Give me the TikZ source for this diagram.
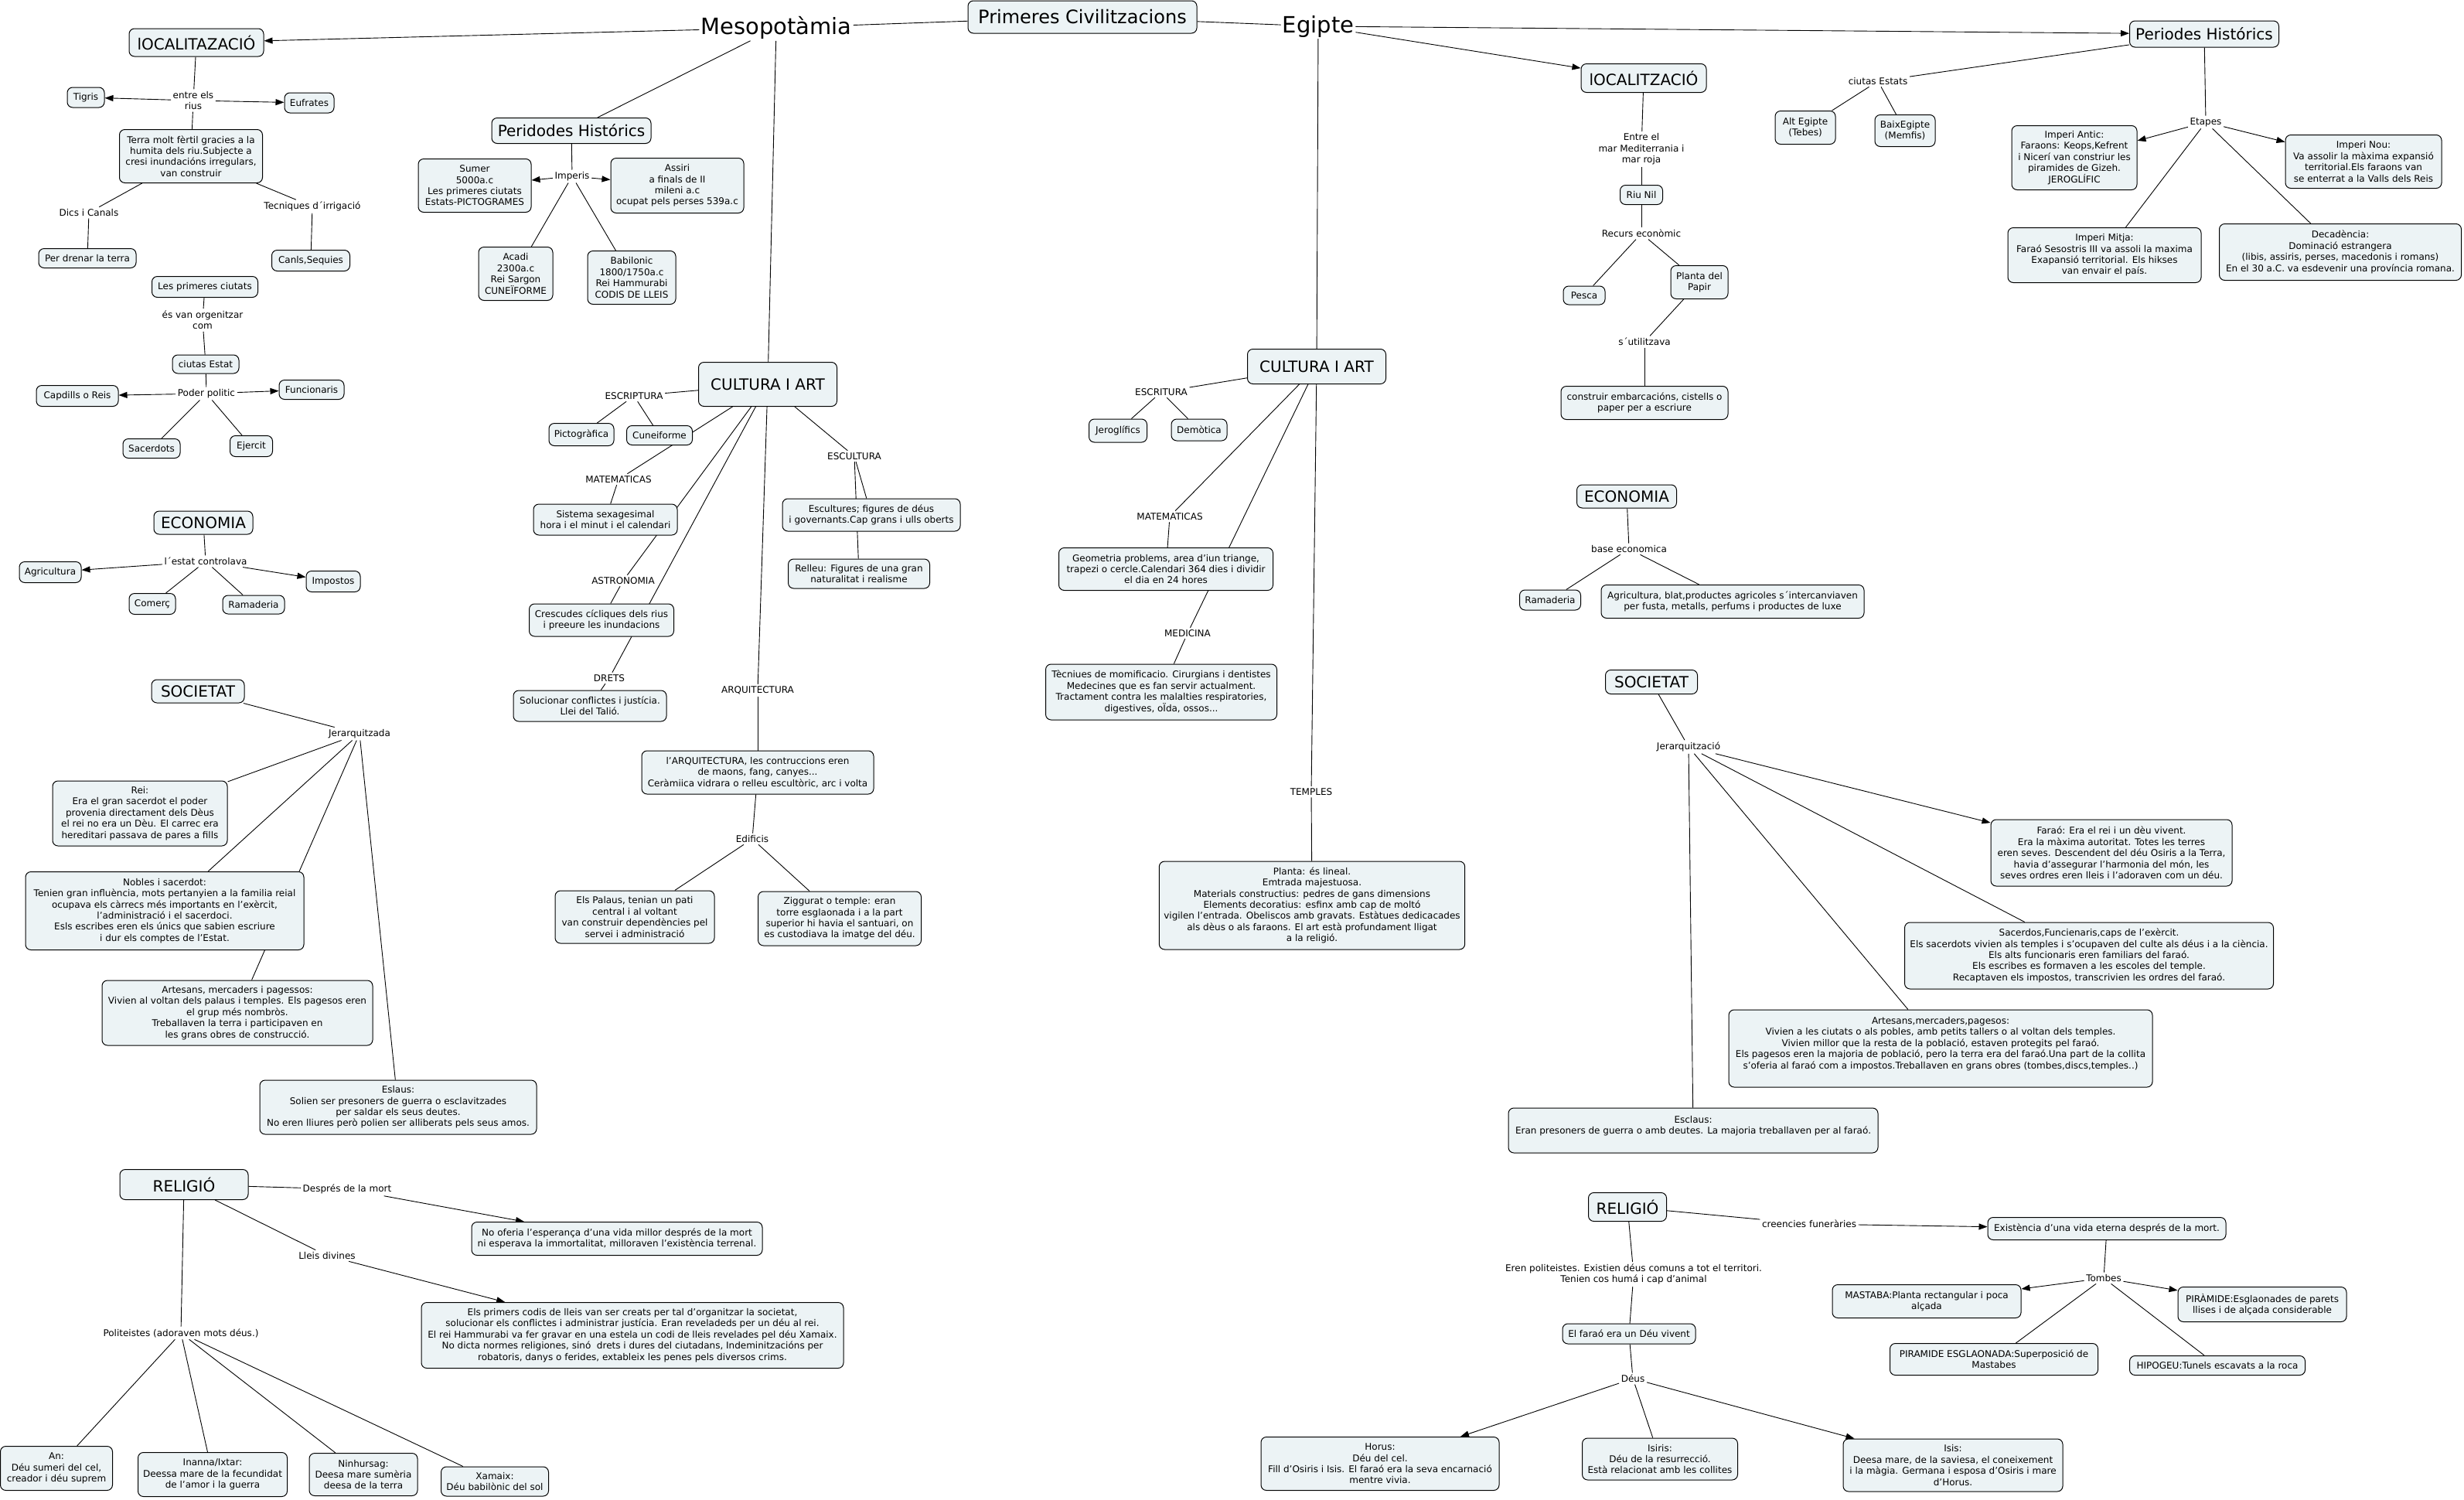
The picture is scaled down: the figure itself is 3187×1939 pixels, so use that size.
\documentclass[tikz,border=0pt]{standalone}
\usepackage{fontspec}
\setmainfont{DejaVu Sans}
\usetikzlibrary{arrows.meta,backgrounds}
\definecolor{boxfill}{RGB}{236,243,245}
\begin{document}
\begin{tikzpicture}[x=1pt,y=-1pt,
 box/.style={draw=black,line width=1pt,rounded corners=7pt,fill=boxfill,align=center,font=\fontsize{12}{14.4}\selectfont,inner xsep=6pt,inner ysep=3pt},
 head/.style={box,font=\fontsize{20}{24}\selectfont},
 lbl/.style={align=center,font=\fontsize{12}{14.4}\selectfont,inner sep=2.5pt},
 big/.style={font=\fontsize{29}{34}\selectfont,inner sep=2pt},
 wh/.style 2 args={minimum width=#1pt,minimum height=#2pt},
 conn/.style={line width=0.9pt},
 arr/.style={line width=0.9pt,-{Triangle[length=11pt,width=8pt]}}]
\useasboundingbox (0,0) rectangle (3187,1939);
% ---------- top ----------
\node[box,wh={296}{42},font=\fontsize{24}{28}\selectfont] (prim) at (1400,22) {Primeres Civilitzacions};
\node[big] (meso) at (1004,36) {Mesopotàmia};
\node[big] (egip) at (1705,34) {Egipte};
% ---------- Mesopotamia: localitzacio ----------
\node[head,wh={174}{36}] (locM) at (254,55) {lOCALITAZACIÓ};
\node[lbl] (rius) at (250,130) {entre els\\rius};
\node[box,wh={48}{26}] (tigris) at (111,126) {Tigris};
\node[box,wh={64}{26}] (eufrates) at (400,133) {Eufrates};
\node[box,wh={185}{69}] (terra) at (247,202) {Terra molt fèrtil gracies a la\\humita dels riu.Subjecte a\\cresi inundacións irregulars,\\van construir};
\node[lbl] (dics) at (115,275) {Dics i Canals};
\node[box,wh={126}{25}] (drenar) at (113,334) {Per drenar la terra};
\node[lbl] (tecn) at (404,267) {Tecniques d´irrigació};
\node[box,wh={101}{27}] (canls) at (402,337) {Canls,Sequies};
\node[box,wh={137}{27}] (primc) at (265,371) {Les primeres ciutats};
\node[lbl] (orgen) at (262,414) {és van orgenitzar\\com};
\node[box,wh={86}{24}] (ciutE) at (266,471) {ciutas Estat};
\node[lbl] (poder) at (267,509) {Poder politic};
\node[box,wh={106}{27}] (capd) at (100,512) {Capdills o Reis};
\node[box,wh={84}{25}] (func) at (403,504) {Funcionaris};
\node[box,wh={74}{25}] (sacer) at (196,580) {Sacerdots};
\node[box,wh={55}{27}] (ejer) at (325,577) {Ejercit};
% ---------- Mesopotamia: periodes ----------
\node[head,wh={206}{33}] (perM) at (739,169) {Peridodes Histórics};
\node[lbl] (imper) at (740,228) {Imperis};
\node[box,wh={146}{69}] (sumer) at (614,240) {Sumer\\5000a.c\\Les primeres ciutats\\Estats-PICTOGRAMES};
\node[box,wh={172}{71}] (assiri) at (876,240) {Assiri\\a finals de II\\mileni a.c\\ocupat pels perses 539a.c};
\node[box,wh={96}{69}] (acadi) at (667,354) {Acadi\\2300a.c\\Rei Sargon\\CUNEÏFORME};
\node[box,wh={114}{69}] (babil) at (817,359) {Babilonic\\1800/1750a.c\\Rei Hammurabi\\CODIS DE LLEIS};
% ---------- Mesopotamia: cultura ----------
\node[head,wh={179}{57}] (cultM) at (993,497) {CULTURA I ART};
\node[lbl] (escrM) at (820,512) {ESCRIPTURA};
\node[box,wh={84}{29}] (picto) at (752,562) {Pictogràfica};
\node[box,wh={85}{25}] (cunei) at (853,563) {Cuneiforme};
\node[lbl] (matM) at (800,620) {MATEMATICAS};
\node[box,wh={186}{40}] (sist) at (783,672) {Sistema sexagesimal\\hora i el minut i el calendari};
\node[lbl] (astro) at (806,751) {ASTRONOMIA};
\node[box,wh={187}{42}] (cresc) at (778,802) {Crescudes cícliques dels rius\\i preeure les inundacions};
\node[lbl] (drets) at (788,877) {DRETS};
\node[box,wh={198}{40}] (soluc) at (763,913) {Solucionar conflictes i justícia.\\Llei del Talió.};
\node[lbl] (arqL) at (980,893) {ARQUITECTURA};
\node[box,wh={300}{56}] (arqB) at (980,999) {l'ARQUITECTURA, les contruccions eren\\de maons, fang, canyes...\\Ceràmiica vidrara o relleu escultòric, arc i volta};
\node[lbl] (edif) at (973,1085) {Edificis};
\node[box,wh={206}{68}] (palau) at (821,1186) {Els Palaus, tenian un pati\\central i al voltant\\van construir dependències pel\\servei i administració};
\node[box,wh={211}{70}] (zigg) at (1086,1188) {Ziggurat o temple: eran\\torre esglaonada i a la part\\superior hi havia el santuari, on\\es custodiava la imatge del déu.};
\node[lbl] (esculL) at (1105,590) {ESCULTURA};
\node[box,wh={230}{42}] (escult) at (1127,666) {Escultures; figures de déus\\i governants.Cap grans i ulls oberts};
\node[box,wh={183}{38}] (relleu) at (1111,742) {Relleu: Figures de una gran\\naturalitat i realisme};
% ---------- Mesopotamia: economia ----------
\node[head,wh={128}{30}] (ecoM) at (263,676) {ECONOMIA};
\node[lbl] (estat) at (266,726) {l´estat controlava};
\node[box,wh={80}{27}] (agriM) at (65,740) {Agricultura};
\node[box,wh={70}{27}] (impost) at (431,752) {Impostos};
\node[box,wh={60}{27}] (comerc) at (197,781) {Comerç};
\node[box,wh={80}{24}] (ramM) at (328,782) {Ramaderia};
% ---------- Mesopotamia: societat ----------
\node[head,wh={120}{30}] (socM) at (256,894) {SOCIETAT};
\node[lbl] (jerM) at (465,949) {Jerarquitzada};
\node[box,wh={226}{84}] (rei) at (181,1052) {Rei:\\Era el gran sacerdot el poder\\provenia directament dels Dèus\\el rei no era un Dèu. El carrec era\\hereditari passava de pares a fills};
\node[box,wh={360}{101}] (nobles) at (213,1178) {Nobles i sacerdot:\\Tenien gran influència, mots pertanyien a la familia reial\\ocupava els càrrecs més importants en l'exèrcit,\\l'administració i el sacerdoci.\\Esls escribes eren els únics que sabien escriure\\i dur els comptes de l'Estat.};
\node[box,wh={350}{84}] (artM) at (307,1310) {Artesans, mercaders i pagessos:\\Vivien al voltan dels palaus i temples. Els pagesos eren\\el grup més nombròs.\\Treballaven la terra i participaven en\\les grans obres de construcció.};
\node[box,wh={358}{70}] (eslaus) at (515,1432) {Eslaus:\\Solien ser presoners de guerra o esclavitzades\\per saldar els seus deutes.\\No eren lliures però polien ser alliberats pels seus amos.};
% ---------- Mesopotamia: religio ----------
\node[head,wh={166}{39}] (relM) at (238,1532) {RELIGIÓ};
\node[lbl] (despr) at (449,1538) {Després de la mort};
\node[box,wh={376}{43}] (nooferia) at (798,1602) {No oferia l'esperança d'una vida millor després de la mort\\ni esperava la immortalitat, milloraven l'existència terrenal.};
\node[lbl] (lleis) at (423,1624) {Lleis divines};
\node[box,wh={546}{85}] (primers) at (818,1727) {Els primers codis de lleis van ser creats per tal d'organitzar la societat,\\solucionar els conflictes i administrar justícia. Eran reveladeds per un déu al rei.\\El rei Hammurabi va fer gravar en una estela un codi de lleis revelades pel déu Xamaix.\\No dicta normes religiones, sinó\ \ drets i dures del ciutadans, Indeminitzacións per\\robatoris, danys o ferides, extableix les penes pels diversos crims.};
\node[lbl] (polit) at (234,1724) {Politeistes (adoraven mots déus.)};
\node[box,wh={145}{57}] (an) at (73,1899) {An:\\Déu sumeri del cel,\\creador i déu suprem};
\node[box,wh={193}{57}] (inanna) at (275,1907) {Inanna/Ixtar:\\Deessa mare de la fecundidat\\de l'amor i la guerra};
\node[box,wh={140}{55}] (ninh) at (470,1907) {Ninhursag:\\Deesa mare sumèria\\deesa de la terra};
\node[box,wh={139}{38}] (xamaix) at (640,1916) {Xamaix:\\Déu babilònic del sol};
% ---------- Egipte: localitzacio ----------
\node[head,wh={162}{37}] (locE) at (2126,101) {lOCALITZACIÓ};
\node[lbl] (entre) at (2123,193) {Entre el\\mar Mediterrania i\\mar roja};
\node[box,wh={55}{25}] (nil) at (2123,252) {Riu Nil};
\node[lbl] (recurs) at (2123,302) {Recurs econòmic};
\node[box,wh={54}{24}] (pesca) at (2049,382) {Pesca};
\node[box,wh={74}{43}] (planta) at (2198,365) {Planta del\\Papir};
\node[lbl] (util) at (2127,442) {s´utilitzava};
\node[box,wh={216}{43}] (constr) at (2127,521) {construir embarcacións, cistells o\\paper per a escriure};
% ---------- Egipte: periodes ----------
\node[head,wh={193}{34}] (perE) at (2851,44) {Periodes Histórics};
\node[lbl] (ciutEs) at (2429,105) {ciutas Estats};
\node[box,wh={78}{43}] (alt) at (2335,165) {Alt Egipte\\(Tebes)};
\node[box,wh={78}{41}] (baix) at (2464,169) {BaixEgipte\\(Memfis)};
\node[lbl] (etapes) at (2853,158) {Etapes};
\node[box,wh={162}{83}] (antic) at (2683,204) {Imperi Antic:\\Faraons: Keops,Kefrent\\i Nicerí van constriur les\\piramides de Gizeh.\\JEROGLÍFIC};
\node[box,wh={202}{69}] (nou) at (3057,209) {Imperi Nou:\\Va assolir la màxima expansió\\territorial.Els faraons van\\se enterrat a la Valls dels Reis};
\node[box,wh={250}{71}] (mitja) at (2722,330) {Imperi Mitja:\\Faraó Sesostris III va assoli la maxima\\Exapansió territorial. Els hikses\\van envair el país.};
\node[box,wh={313}{73}] (decad) at (3027,326) {Decadència:\\Dominació estrangera\\(libis, assiris, perses, macedonis i romans)\\En el 30 a.C. va esdevenir una província romana.};
% ---------- Egipte: cultura ----------
\node[head,wh={179}{45}] (cultE) at (1703,474) {CULTURA I ART};
\node[lbl] (escrE) at (1502,507) {ESCRITURA};
\node[box,wh={75}{30}] (jero) at (1446,557) {Jeroglífics};
\node[box,wh={72}{28}] (demo) at (1551,556) {Demòtica};
\node[lbl] (matE) at (1513,668) {MATEMATICAS};
\node[box,wh={277}{55}] (geom) at (1508,736) {Geometria problems, area d'iun triange,\\trapezi o cercle.Calendari 364 dies i dividir\\el dia en 24 hores};
\node[lbl] (medic) at (1536,819) {MEDICINA};
\node[box,wh={299}{72}] (tecniu) at (1502,895) {Tècniues de momificacio. Cirurgians i dentistes\\Medecines que es fan servir actualment.\\Tractament contra les malalties respiratories,\\digestives, oÏda, ossos...};
\node[lbl] (templ) at (1696,1024) {TEMPLES};
\node[box,wh={395}{114}] (plantaT) at (1697,1171) {Planta: és lineal.\\Emtrada majestuosa.\\Materials constructius: pedres de gans dimensions\\Elements decoratius: esfinx amb cap de moltó\\vigilen l'entrada. Obeliscos amb gravats. Estàtues dedicacades\\als dèus o als faraons. El art està profundament lligat\\a la religió.};
% ---------- Egipte: economia ----------
\node[head,wh={129}{30}] (ecoE) at (2104,642) {ECONOMIA};
\node[lbl] (base) at (2107,710) {base economica};
\node[box,wh={79}{26}] (ramE) at (2005,776) {Ramaderia};
\node[box,wh={340}{43}] (agriE) at (2241,778) {Agricultura, blat,productes agricoles s´intercanviaven\\per fusta, metalls, perfums i productes de luxe};
% ---------- Egipte: societat ----------
\node[head,wh={119}{31}] (socE) at (2136,882) {SOCIETAT};
\node[lbl] (jerE) at (2184,966) {Jerarquització};
\node[box,wh={312}{86}] (farao) at (2731,1103) {Faraó: Era el rei i un dèu vivent.\\Era la màxima autoritat. Totes les terres\\eren seves. Descendent del déu Osiris a la Terra,\\havia d'assegurar l'harmonia del món, les\\seves ordres eren lleis i l'adoraven com un déu.};
\node[box,wh={477}{86}] (sacerd) at (2702,1236) {Sacerdos,Funcienaris,caps de l'exèrcit.\\Els sacerdots vivien als temples i s'ocupaven del culte als déus i a la ciència.\\Els alts funcionaris eren familiars del faraó.\\Els escribes es formaven a les escoles del temple.\\Recaptaven els impostos, transcrivien les ordres del faraó.};
\node[box,wh={548}{100}] (artE) at (2510,1356) {Artesans,mercaders,pagesos:\\Vivien a les ciutats o als pobles, amb petits tallers o al voltan dels temples.\\Vivien millor que la resta de la població, estaven protegits pel faraó.\\Els pagesos eren la majoria de població, pero la terra era del faraó.Una part de la collita\\s'oferia al faraó com a impostos.Treballaven en grans obres (tombes,discs,temples..)\\~};
\node[box,wh={478}{58}] (esclaus) at (2190,1462) {Esclaus:\\Eran presoners de guerra o amb deutes. La majoria treballaven per al faraó.\\~};
% ---------- Egipte: religio ----------
\node[head,wh={101}{37}] (relE) at (2105,1561) {RELIGIÓ};
\node[lbl] (creen) at (2340,1583) {creencies funeràries};
\node[box,wh={308}{29}] (exist) at (2725,1589) {Existència d'una vida eterna després de la mort.};
\node[lbl] (tombes) at (2721,1653) {Tombes};
\node[box,wh={244}{43}] (mast) at (2492,1683) {MASTABA:Planta rectangular i poca\\alçada};
\node[box,wh={218}{45}] (piram) at (2926,1687) {PIRÀMIDE:Esglaonades de parets\\llises i de alçada considerable};
\node[box,wh={269}{41}] (piresg) at (2579,1758) {PIRAMIDE ESGLAONADA:Superposició de\\Mastabes};
\node[box,wh={227}{25}] (hipo) at (2868,1766) {HIPOGEU:Tunels escavats a la roca};
\node[lbl] (eren) at (2113,1648) {Eren politeistes. Existien déus comuns a tot el territori.\\Tenien cos humá i cap d'animal};
\node[box,wh={172}{26}] (farv) at (2107,1725) {El faraó era un Déu vivent};
\node[lbl] (deus) at (2112,1783) {Déus};
\node[box,wh={308}{69}] (horus) at (1785,1893) {Horus:\\Déu del cel.\\Fill d'Osiris i Isis. El faraó era la seva encarnació\\mentre vivia.};
\node[box,wh={201}{54}] (isiris) at (2147,1887) {Isiris:\\Déu de la resurrecció.\\Està relacionat amb les collites};
\node[box,wh={284}{68}] (isis) at (2526,1895) {Isis:\\Deesa mare, de la saviesa, el coneixement\\i la màgia. Germana i esposa d'Osiris i mare\\d'Horus.};
% ---------- connectors ----------
\begin{pgfonlayer}{background}
\fill[white] (0,0) rectangle (3187,1939);
\draw[conn] (prim) -- (meso);
\draw[conn] (prim) -- (egip);
\draw[arr] (meso) -- (locM);
\draw[conn] (meso) -- (perM);
\draw[conn] (meso) -- (cultM);
\draw[conn] (locM) -- (rius);
\draw[arr] (rius) -- (tigris);
\draw[arr] (rius) -- (eufrates);
\draw[conn] (rius) -- (terra);
\draw[conn] (terra) -- (dics);
\draw[conn] (dics) -- (drenar);
\draw[conn] (terra) -- (tecn);
\draw[conn] (tecn) -- (canls);
\draw[conn] (primc) -- (orgen);
\draw[conn] (orgen) -- (ciutE);
\draw[conn] (ciutE) -- (poder);
\draw[arr] (poder) -- (capd);
\draw[arr] (poder) -- (func);
\draw[conn] (poder) -- (sacer);
\draw[conn] (poder) -- (ejer);
\draw[conn] (perM) -- (imper);
\draw[arr] (imper) -- (sumer);
\draw[arr] (imper) -- (assiri);
\draw[conn] (imper) -- (acadi);
\draw[conn] (imper) -- (babil);
\draw[conn] (cultM) -- (escrM);
\draw[conn] (escrM) -- (picto);
\draw[conn] (escrM) -- (cunei);
\draw[conn] (cultM) -- (matM);
\draw[conn] (matM) -- (sist);
\draw[conn] (cultM) -- (astro);
\draw[conn] (astro) -- (cresc);
\draw[conn] (cultM) -- (drets);
\draw[conn] (drets) -- (soluc);
\draw[conn] (cultM) -- (arqL);
\draw[conn] (arqL) -- (arqB);
\draw[conn] (arqB) -- (edif);
\draw[conn] (edif) -- (palau);
\draw[conn] (edif) -- (zigg);
\draw[conn] (cultM) -- (esculL);
\draw[conn] (esculL) -- (escult);
\draw[conn] (esculL) -- (relleu);
\draw[conn] (ecoM) -- (estat);
\draw[arr] (estat) -- (agriM);
\draw[arr] (estat) -- (impost);
\draw[conn] (estat) -- (comerc);
\draw[conn] (estat) -- (ramM);
\draw[conn] (socM) -- (jerM);
\draw[conn] (jerM) -- (rei);
\draw[conn] (jerM) -- (nobles);
\draw[conn] (jerM) -- (artM);
\draw[conn] (jerM) -- (eslaus);
\draw[conn] (relM) -- (despr);
\draw[arr] (despr) -- (nooferia);
\draw[conn] (relM) -- (lleis);
\draw[arr] (lleis) -- (primers);
\draw[conn] (relM) -- (polit);
\draw[conn] (polit) -- (an);
\draw[conn] (polit) -- (inanna);
\draw[conn] (polit) -- (ninh);
\draw[conn] (polit) -- (xamaix);
\draw[arr] (egip) -- (perE);
\draw[arr] (egip) -- (locE);
\draw[conn] (egip) -- (cultE);
\draw[conn] (locE) -- (entre);
\draw[conn] (entre) -- (nil);
\draw[conn] (nil) -- (recurs);
\draw[conn] (recurs) -- (pesca);
\draw[conn] (recurs) -- (planta);
\draw[conn] (planta) -- (util);
\draw[conn] (util) -- (constr);
\draw[conn] (perE) -- (ciutEs);
\draw[conn] (ciutEs) -- (alt);
\draw[conn] (ciutEs) -- (baix);
\draw[conn] (perE) -- (etapes);
\draw[arr] (etapes) -- (antic);
\draw[arr] (etapes) -- (nou);
\draw[conn] (etapes) -- (mitja);
\draw[conn] (etapes) -- (decad);
\draw[conn] (ecoE) -- (base);
\draw[conn] (base) -- (ramE);
\draw[conn] (base) -- (agriE);
\draw[conn] (socE) -- (jerE);
\draw[arr] (jerE) -- (farao);
\draw[conn] (jerE) -- (sacerd);
\draw[conn] (jerE) -- (artE);
\draw[conn] (jerE) -- (esclaus);
\draw[conn] (cultE) -- (escrE);
\draw[conn] (escrE) -- (jero);
\draw[conn] (escrE) -- (demo);
\draw[conn] (cultE) -- (matE);
\draw[conn] (matE) -- (geom);
\draw[conn] (cultE) -- (medic);
\draw[conn] (medic) -- (tecniu);
\draw[conn] (cultE) -- (templ);
\draw[conn] (templ) -- (plantaT);
\draw[conn] (relE) -- (creen);
\draw[arr] (creen) -- (exist);
\draw[conn] (exist) -- (tombes);
\draw[arr] (tombes) -- (mast);
\draw[arr] (tombes) -- (piram);
\draw[conn] (tombes) -- (piresg);
\draw[conn] (tombes) -- (hipo);
\draw[conn] (relE) -- (eren);
\draw[conn] (eren) -- (farv);
\draw[conn] (farv) -- (deus);
\draw[arr] (deus) -- (horus);
\draw[conn] (deus) -- (isiris);
\draw[arr] (deus) -- (isis);
\end{pgfonlayer}
\end{tikzpicture}
\end{document}
